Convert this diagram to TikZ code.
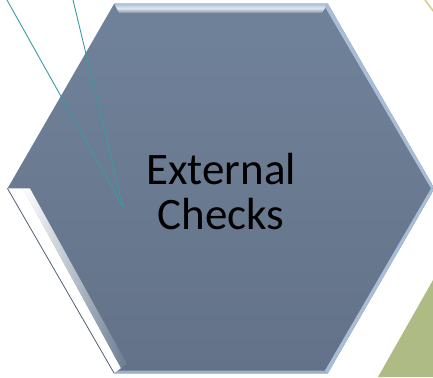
\documentclass[tikz,border=0pt]{standalone}
\usepackage{fontspec}
\setmainfont{Carlito}
\usetikzlibrary{shapes.geometric}

\definecolor{hexblue}{HTML}{6A7B91}
\definecolor{hextop}{HTML}{70829A}
\definecolor{hexbot}{HTML}{637288}
\definecolor{bevellight}{HTML}{A9BDD6}
\definecolor{beveldark}{HTML}{56637A}
\definecolor{tealline}{HTML}{3C9AA3}
\definecolor{olive}{HTML}{AEBB85}
\definecolor{sand}{HTML}{D6CD8C}

\begin{document}
\begin{tikzpicture}
	[x=1pt,y=1pt, hexagon/.style={regular polygon,regular polygon sides=6,minimum size=427pt,inner sep=0pt,top color=hextop,bottom color=hexbot},
	caption/.style={font=\fontsize{45}{44.5}\selectfont,align=center,inner sep=0pt},
	strip/.style={draw=none}, pointer/.style={draw=tealline,line width=0.9pt}]
	\useasboundingbox (0,0) rectangle (433,377);
	% background shapes
	\fill[olive] (378,0) -- (433,97) -- (433,0) -- cycle;
	\draw[sand,line width=1.6pt] (425,377) -- (434,365);
	% the hexagon
	\node[hexagon] (checks) at (221,188.5) {};
	\node[caption] (checkstext) at ([yshift=-3pt]checks.center) {External\\Checks};
	% bevel
	\shade[strip,top color=bevellight,bottom color=hexblue!85!white,middle color=bevellight!35!white] (114.25,373.4) -- (327.75,373.4) -- (322,364) -- (119,364) -- cycle;
	\fill[white] (7.5,188.5) -- (114.25,3.6) -- (121,9) -- (23,188.5) -- cycle;
	\shade[strip,left color=white,right color=hexblue] (23,188.5) -- (121,9) -- (127,13) -- (30,188.5) -- cycle;
	\draw[beveldark,line width=0.8pt] (7.5,188.5) -- (114.25,3.6);
	\fill[bevellight] (327.75,373.4) -- (434.5,188.5) -- (431,188.5) -- (325,370) -- cycle;
	\fill[bevellight] (434.5,188.5) -- (327.75,3.6) -- (325,6.5) -- (431,188.5) -- cycle;
	\fill[bevellight!80!hexblue] (114.25,3.6) -- (327.75,3.6) -- (325,6.5) -- (118,6.5) -- cycle;
	% pointers
	\coordinate (tip) at (123,170);
	\coordinate (froma) at (7,377);
	\coordinate (fromb) at (73,377);
	\draw[pointer] (froma) -- (tip);
	\draw[pointer] (fromb) -- (tip);
\end{tikzpicture}
\end{document}
